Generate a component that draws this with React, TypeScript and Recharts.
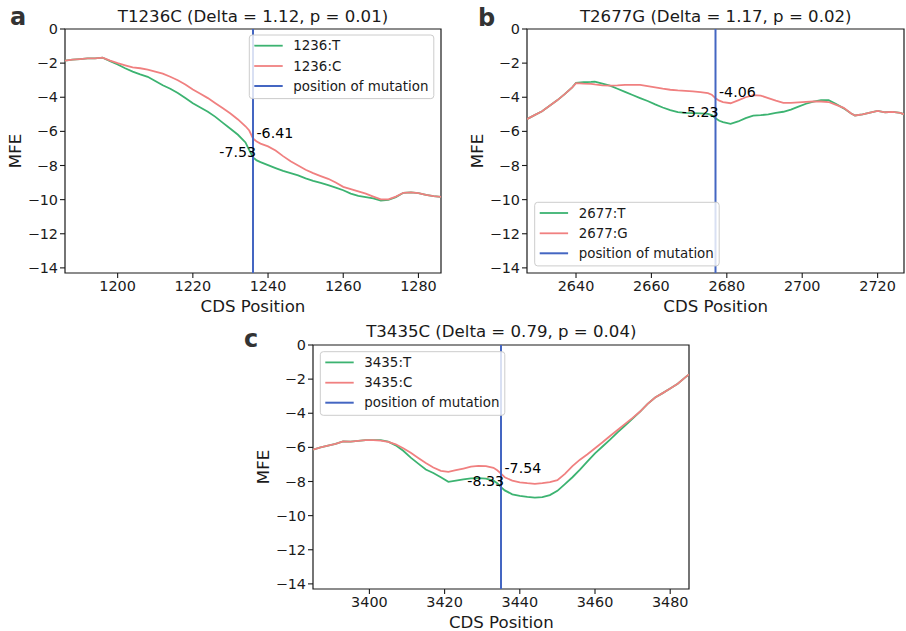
import React from 'react';
import { LineChart, Line, XAxis, YAxis, ReferenceLine, ReferenceDot, ReferenceArea } from 'recharts';

const FONT = "'DejaVu Sans', sans-serif";
const GREEN = '#3cb371';
const RED = '#f08080';
const BLUE = '#4466c2';
const INK = '#1a1a1a';

const yTicks = [0, -2, -4, -6, -8, -10, -12, -14];

// Panel a: T1236C
const aPos = [1186, 1188, 1190, 1192, 1194, 1196, 1198, 1200, 1202, 1204, 1206, 1208, 1210, 1212, 1214, 1216, 1218, 1220, 1222, 1224, 1226, 1228, 1230, 1232, 1234, 1235, 1236, 1237, 1238, 1240, 1242, 1244, 1246, 1248, 1250, 1252, 1254, 1256, 1258, 1260, 1262, 1264, 1266, 1268, 1270, 1272, 1274, 1276, 1278, 1280, 1282, 1284, 1286];
const aT = [-1.85, -1.8, -1.76, -1.72, -1.72, -1.68, -1.88, -2.08, -2.3, -2.5, -2.66, -2.8, -3.05, -3.3, -3.5, -3.75, -4.05, -4.35, -4.6, -4.85, -5.15, -5.5, -5.85, -6.2, -6.65, -7.1, -7.53, -7.7, -7.8, -7.98, -8.15, -8.32, -8.45, -8.58, -8.75, -8.9, -9.02, -9.15, -9.3, -9.45, -9.65, -9.78, -9.85, -9.93, -10.06, -10.02, -9.85, -9.6, -9.58, -9.62, -9.72, -9.8, -9.84];
const aC = [-1.85, -1.8, -1.76, -1.72, -1.72, -1.68, -1.85, -2.0, -2.13, -2.25, -2.3, -2.38, -2.5, -2.62, -2.8, -3.0, -3.25, -3.55, -3.8, -4.05, -4.35, -4.65, -4.95, -5.3, -5.7, -5.95, -6.41, -6.6, -6.72, -6.88, -7.12, -7.45, -7.75, -8.0, -8.25, -8.45, -8.62, -8.78, -9.0, -9.25, -9.38, -9.52, -9.65, -9.82, -9.98, -9.98, -9.82, -9.6, -9.58, -9.62, -9.72, -9.8, -9.84];
const aXTicks = [1200, 1220, 1240, 1260, 1280];

// Panel b: T2677G
const bPos = [2627, 2629, 2631, 2633, 2635, 2637, 2639, 2640, 2642, 2644, 2645, 2647, 2649, 2651, 2653, 2655, 2657, 2659, 2661, 2663, 2665, 2667, 2669, 2671, 2673, 2675, 2676, 2677, 2678, 2679, 2681, 2683, 2685, 2687, 2689, 2691, 2693, 2695, 2697, 2699, 2701, 2703, 2705, 2707, 2709, 2711, 2713, 2714, 2716, 2718, 2720, 2722, 2724, 2726, 2727];
const bT = [-5.28, -5.05, -4.82, -4.5, -4.18, -3.82, -3.42, -3.15, -3.12, -3.1, -3.08, -3.2, -3.32, -3.5, -3.68, -3.87, -4.05, -4.22, -4.42, -4.6, -4.75, -4.87, -4.92, -4.93, -4.94, -4.97, -5.05, -5.23, -5.38, -5.46, -5.56, -5.42, -5.22, -5.08, -5.05, -5.0, -4.92, -4.85, -4.72, -4.55, -4.38, -4.25, -4.17, -4.17, -4.4, -4.65, -4.95, -5.07, -5.0, -4.9, -4.8, -4.88, -4.86, -4.92, -5.0];
const bC = [-5.28, -5.05, -4.82, -4.5, -4.18, -3.82, -3.42, -3.17, -3.2, -3.22, -3.25, -3.3, -3.32, -3.3, -3.27, -3.27, -3.28, -3.35, -3.42, -3.5, -3.56, -3.6, -3.63, -3.66, -3.7, -3.76, -3.85, -4.06, -4.2, -4.28, -4.35, -4.18, -4.0, -3.88, -3.9, -4.05, -4.2, -4.33, -4.33, -4.3, -4.27, -4.25, -4.25, -4.28, -4.45, -4.62, -4.95, -5.07, -5.0, -4.9, -4.8, -4.88, -4.86, -4.92, -5.0];
const bXTicks = [2640, 2660, 2680, 2700, 2720];

// Panel c: T3435C
const cPos = [3385, 3387, 3389, 3391, 3393, 3395, 3397, 3399, 3401, 3403, 3405, 3407, 3409, 3411, 3413, 3415, 3417, 3419, 3421, 3423, 3425, 3427, 3429, 3431, 3433, 3434, 3435, 3436, 3438, 3440, 3442, 3444, 3446, 3448, 3450, 3452, 3454, 3456, 3458, 3460, 3462, 3464, 3466, 3468, 3470, 3472, 3474, 3476, 3478, 3480, 3482, 3484, 3485];
const cT = [-6.13, -6.0, -5.9, -5.8, -5.65, -5.66, -5.62, -5.58, -5.58, -5.58, -5.66, -5.88, -6.2, -6.6, -6.95, -7.3, -7.5, -7.75, -8.02, -7.95, -7.88, -7.82, -7.8, -7.83, -7.95, -8.1, -8.33, -8.52, -8.75, -8.84, -8.9, -8.95, -8.92, -8.8, -8.55, -8.15, -7.75, -7.3, -6.82, -6.35, -5.95, -5.55, -5.12, -4.72, -4.32, -3.9, -3.45, -3.08, -2.82, -2.55, -2.27, -1.9, -1.72];
const cC = [-6.13, -6.0, -5.9, -5.8, -5.65, -5.66, -5.62, -5.58, -5.58, -5.6, -5.68, -5.82, -6.05, -6.32, -6.62, -6.92, -7.18, -7.38, -7.44, -7.34, -7.24, -7.13, -7.08, -7.1, -7.2, -7.34, -7.54, -7.75, -7.95, -8.05, -8.1, -8.14, -8.1, -8.03, -7.92, -7.55, -7.1, -6.72, -6.4, -6.05, -5.7, -5.33, -4.98, -4.62, -4.27, -3.9, -3.45, -3.08, -2.82, -2.55, -2.27, -1.9, -1.72];
const cXTicks = [3400, 3420, 3440, 3460, 3480];

const fmt = (v: number) => (v < 0 ? '\u2212' + Math.abs(v) : String(v));

const AnnotLabel = (props: any) => {
  const vb = props.viewBox || {};
  const cx = (vb.x || 0) + (vb.width || 0) / 2;
  const cy = (vb.y || 0) + (vb.height || 0) / 2;
  const right = props.side === 'right';
  return (
    <text
      x={right ? cx + 3.5 : cx + 3}
      y={cy - 0.8}
      textAnchor={right ? 'start' : 'end'}
      fontFamily={FONT}
      fontSize={14.2}
      fill="#000"
    >
      {props.text}
    </text>
  );
};

type PanelProps = {
  left: number; top: number; width: number; height: number;
  margin: { top: number; right: number; left: number; bottom: number };
  yWidth: number; xHeight: number;
  domain: [number, number]; xTicks: number[];
  pos: number[]; tVals: number[]; cVals: number[];
  mut: number; valT: number; valC: number;
};

const Panel = (p: PanelProps) => {
  const rows = p.pos.map((x, i) => ({ pos: x, t: p.tVals[i], c: p.cVals[i] }));
  const tickStyle = { fill: INK, fontSize: 14.4, fontFamily: FONT };
  return (
    <div style={{ position: 'absolute', left: p.left, top: p.top }}>
      <LineChart width={p.width} height={p.height} data={rows} margin={p.margin}>
        <XAxis
          dataKey="pos" type="number" domain={p.domain} ticks={p.xTicks} interval={0}
          allowDataOverflow axisLine={false} tickSize={5} tickMargin={3}
          tickLine={{ stroke: INK, strokeWidth: 1.1 }} tick={tickStyle} height={p.xHeight}
        />
        <YAxis
          type="number" domain={[-14.3, 0]} ticks={yTicks} interval={0} allowDataOverflow
          axisLine={false} tickSize={5} tickMargin={2} tickFormatter={fmt}
          tickLine={{ stroke: INK, strokeWidth: 1.1 }} tick={tickStyle} width={p.yWidth}
        />
        <Line type="linear" dataKey="t" stroke={GREEN} strokeWidth={1.8} dot={false} isAnimationActive={false} />
        <Line type="linear" dataKey="c" stroke={RED} strokeWidth={1.8} dot={false} isAnimationActive={false} />
        <ReferenceLine x={p.mut} stroke={BLUE} strokeWidth={2} />
        <ReferenceDot x={p.mut} y={p.valC} r={1} fill="none" stroke="none" label={<AnnotLabel side="right" text={String(p.valC)} />} />
        <ReferenceDot x={p.mut} y={p.valT} r={1} fill="none" stroke="none" label={<AnnotLabel side="left" text={String(p.valT)} />} />
        <ReferenceArea x1={p.domain[0]} x2={p.domain[1]} y1={-14.3} y2={0} fill="none" stroke={INK} strokeWidth={1.2} strokeOpacity={1} fillOpacity={0} />
      </LineChart>
    </div>
  );
};

const LegendBox = ({ x, y, labels }: { x: number; y: number; labels: string[] }) => {
  const colors = [GREEN, RED, BLUE];
  const rows = [10.7, 31, 51];
  return (
    <g>
      <rect x={x} y={y} width={184.5} height={63.6} rx={3} ry={3} fill="#ffffff" fillOpacity={0.8} stroke="#cccccc" strokeWidth={1} />
      {labels.map((l, i) => (
        <g key={l}>
          <line x1={x + 5} x2={x + 33.4} y1={y + rows[i]} y2={y + rows[i]} stroke={colors[i]} strokeWidth={i === 2 ? 2 : 1.8} />
          <text x={x + 44} y={y + rows[i]} dominantBaseline="central" fontFamily={FONT} fontSize={13.4} fill={INK}>{l}</text>
        </g>
      ))}
    </g>
  );
};

export default function App() {
  return (
    <div style={{ position: 'absolute', left: 0, top: 0, width: 906, height: 631, background: '#fff', overflow: 'hidden' }}>
      <Panel left={0} top={0} width={450} height={320} margin={{ top: 29, right: 9, left: 0, bottom: 0 }}
        yWidth={65} xHeight={47} domain={[1186, 1286]} xTicks={aXTicks}
        pos={aPos} tVals={aT} cVals={aC} mut={1236} valT={-7.53} valC={-6.41} />
      <Panel left={450} top={0} width={456} height={320} margin={{ top: 29, right: 2, left: 0, bottom: 0 }}
        yWidth={77} xHeight={47} domain={[2627, 2727]} xTicks={bXTicks}
        pos={bPos} tVals={bT} cVals={bC} mut={2677} valT={-5.23} valC={-4.06} />
      <Panel left={230} top={320} width={470} height={311} margin={{ top: 25, right: 11, left: 0, bottom: 0 }}
        yWidth={83} xHeight={42} domain={[3385, 3485]} xTicks={cXTicks}
        pos={cPos} tVals={cT} cVals={cC} mut={3435} valT={-8.33} valC={-7.54} />
      <svg width={906} height={631} style={{ position: 'absolute', left: 0, top: 0, pointerEvents: 'none' }}>
        <g fontFamily={FONT} fill={INK}>
          <text x={253} y={21.7} textAnchor="middle" fontSize={16.6}>T1236C (Delta = 1.12, p = 0.01)</text>
          <text x={715.7} y={21.7} textAnchor="middle" fontSize={16.6}>T2677G (Delta = 1.17, p = 0.02)</text>
          <text x={501.3} y={337.3} textAnchor="middle" fontSize={16.6}>T3435C (Delta = 0.79, p = 0.04)</text>
          <text x={253} y={311.7} textAnchor="middle" fontSize={16.6}>CDS Position</text>
          <text x={715.7} y={311.7} textAnchor="middle" fontSize={16.6}>CDS Position</text>
          <text x={501.3} y={628.3} textAnchor="middle" fontSize={16.6}>CDS Position</text>
          <text transform="translate(20.7,151) rotate(-90)" textAnchor="middle" fontSize={16.6}>MFE</text>
          <text transform="translate(483.3,151) rotate(-90)" textAnchor="middle" fontSize={16.6}>MFE</text>
          <text transform="translate(269.3,467) rotate(-90)" textAnchor="middle" fontSize={16.6}>MFE</text>
        </g>
        <g fontFamily={FONT} fontWeight="bold" fontSize={24} fill="#333">
          <text x={10} y={25}>a</text>
          <text x={478} y={25.7}>b</text>
          <text x={244} y={346.6}>c</text>
        </g>
        <LegendBox x={249.3} y={35} labels={['1236:T', '1236:C', 'position of mutation']} />
        <LegendBox x={534.7} y={202.3} labels={['2677:T', '2677:G', 'position of mutation']} />
        <LegendBox x={320.3} y={351.7} labels={['3435:T', '3435:C', 'position of mutation']} />
      </svg>
    </div>
  );
}
